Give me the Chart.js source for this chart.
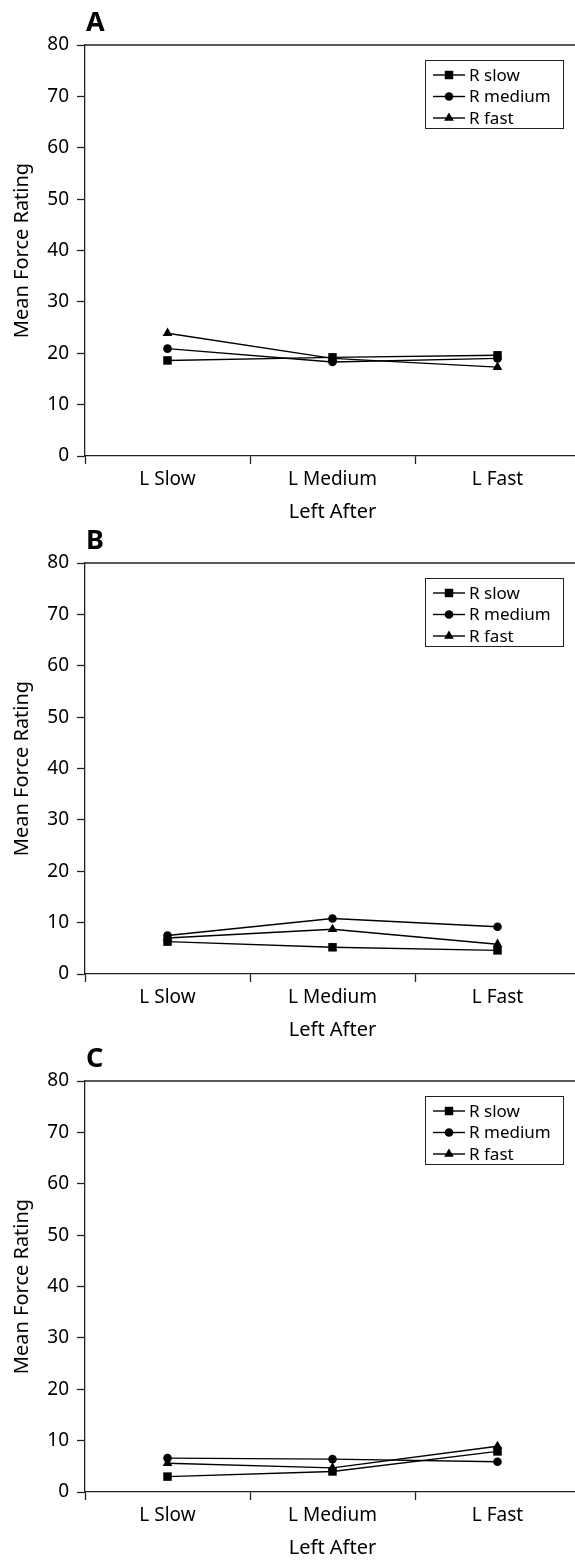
<!DOCTYPE html>
<html>
<head>
<meta charset="utf-8">
<script src="https://cdn.jsdelivr.net/npm/chart.js@4/dist/chart.umd.min.js"></script>
<style>
  html, body { margin: 0; padding: 0; background: #fff; }
  body { width: 575px; height: 1561px; overflow: hidden; position: relative; }
  canvas { position: absolute; left: 0; }
</style>
</head>
<body>
<canvas id="panelA" width="586" height="524" style="top:0px"></canvas>
<canvas id="panelB" width="586" height="524" style="top:518px"></canvas>
<canvas id="panelC" width="586" height="524" style="top:1036px"></canvas>
<script>
// categories and series
const categories = ['L Slow', 'L Medium', 'L Fast'];
const seriesNames = ['R slow', 'R medium', 'R fast'];
const seriesMarkers = ['rect', 'circle', 'triangle'];
const markerSizes = [6, 4.3, 5.6];

// values (Mean Force Rating)
const panelA_slow = [18.6, 19.2, 19.6];
const panelA_medium = [20.9, 18.3, 19.0];
const panelA_fast = [23.9, 19.0, 17.3];

const panelB_slow = [6.3, 5.2, 4.6];
const panelB_medium = [7.5, 10.8, 9.2];
const panelB_fast = [7.0, 8.7, 5.8];

const panelC_slow = [3.0, 4.0, 7.9];
const panelC_medium = [6.6, 6.4, 5.9];
const panelC_fast = [5.6, 4.7, 8.9];

// y axis ticks
const yMin = 0;
const yMax = 80;
const yStep = 10;

const FONT = '"Noto Sans", "Open Sans", sans-serif';
const AXIS = '#222';

// draws the top frame line, the panel letter and the boxed legend
const panelDecor = {
    id: 'panelDecor',
    afterDraw(chart, args, opts) {
        const ctx = chart.ctx;
        const a = chart.chartArea;
        ctx.save();
        // top border of the plot
        ctx.strokeStyle = AXIS;
        ctx.lineWidth = 1.3;
        ctx.beginPath();
        ctx.moveTo(a.left, a.top);
        ctx.lineTo(a.right, a.top);
        ctx.stroke();

        // panel letter
        ctx.fillStyle = '#000';
        ctx.font = 'bold 27px ' + FONT;
        ctx.textBaseline = 'alphabetic';
        ctx.textAlign = 'left';
        ctx.fillText(opts.letter, a.left + 1, a.top - 14);

        // legend box
        const bx = a.left + 340, by = a.top + 15, bw = 138, bh = 68, rowH = 21.5;
        ctx.lineWidth = 1;
        ctx.strokeStyle = AXIS;
        ctx.strokeRect(bx + 0.5, by + 0.5, bw, bh);
        ctx.font = '17px ' + FONT;
        ctx.textBaseline = 'middle';
        chart.data.datasets.forEach((ds, i) => {
            const y = by + 15 + i * rowH;
            ctx.strokeStyle = '#000';
            ctx.lineWidth = 1.4;
            ctx.beginPath();
            ctx.moveTo(bx + 8, y);
            ctx.lineTo(bx + 40, y);
            ctx.stroke();
            ctx.fillStyle = '#000';
            Chart.helpers.drawPoint(ctx, {
                pointStyle: ds.pointStyle,
                radius: ds.pointRadius,
                rotation: 0,
                borderWidth: 0
            }, bx + 24, y);
            ctx.fillText(ds.label, bx + 44, y + 1);
        });
        ctx.restore();
    }
};

function makePanel(id, letter, slow, medium, fast) {
    const values = [slow, medium, fast];
    const datasets = values.map((v, i) => ({
        label: seriesNames[i],
        data: v,
        borderColor: '#000',
        backgroundColor: '#000',
        borderWidth: 1.4,
        pointStyle: seriesMarkers[i],
        pointRadius: markerSizes[i],
        pointBorderWidth: 0,
        tension: 0
    }));

    return new Chart(document.getElementById(id), {
        type: 'line',
        data: { labels: categories, datasets: datasets },
        options: {
            responsive: false,
            animation: false,
            layout: { padding: { top: 45, left: 0, right: 0, bottom: 0 } },
            plugins: {
                legend: { display: false },
                tooltip: { enabled: false },
                panelDecor: { letter: letter }
            },
            scales: {
                x: {
                    type: 'category',
                    offset: true,
                    afterFit: (s) => { s.height = 68; },
                    grid: {
                        offset: true,
                        drawOnChartArea: false,
                        drawTicks: true,
                        tickLength: 8,
                        tickWidth: 1.3,
                        color: AXIS
                    },
                    border: { display: true, color: AXIS, width: 1.3 },
                    ticks: { color: '#000', font: { family: FONT, size: 19 }, padding: 4, maxRotation: 0 },
                    title: {
                        display: true,
                        text: 'Left After',
                        color: '#000',
                        font: { family: FONT, size: 20 },
                        padding: { top: 0, bottom: 0 }
                    }
                },
                y: {
                    min: yMin,
                    max: yMax,
                    afterFit: (s) => { s.width = 85; },
                    grid: {
                        drawOnChartArea: false,
                        drawTicks: true,
                        tickLength: 8,
                        tickWidth: 1.3,
                        color: AXIS
                    },
                    border: { display: true, color: AXIS, width: 1.3 },
                    ticks: { stepSize: yStep, color: '#000', font: { family: FONT, size: 19 }, padding: 8 },
                    title: {
                        display: true,
                        text: 'Mean Force Rating',
                        color: '#000',
                        font: { family: FONT, size: 20 },
                        padding: { top: 10, bottom: 0 }
                    }
                }
            }
        },
        plugins: [panelDecor]
    });
}

makePanel('panelA', 'A', panelA_slow, panelA_medium, panelA_fast);
makePanel('panelB', 'B', panelB_slow, panelB_medium, panelB_fast);
makePanel('panelC', 'C', panelC_slow, panelC_medium, panelC_fast);
</script>
</body>
</html>
